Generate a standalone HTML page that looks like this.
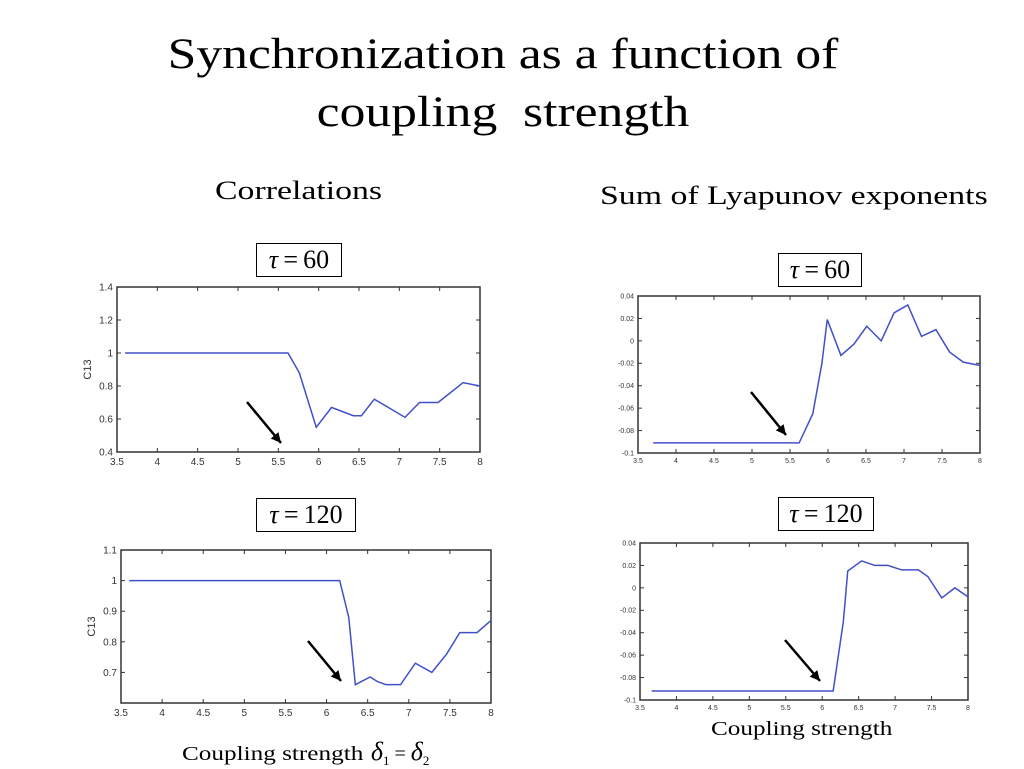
<!DOCTYPE html>
<html><head><meta charset="utf-8">
<style>
html,body{margin:0;padding:0;background:#fff;}
body{width:1024px;height:768px;position:relative;overflow:hidden;font-family:"Liberation Serif",serif;color:#000;}
.t{position:absolute;white-space:nowrap;}
.box{position:absolute;border:1px solid #000;font-size:26px;line-height:31px;text-align:center;}
svg{position:absolute;left:0;top:0;}
</style></head><body>
<div class="t" style="left:0;width:1006px;text-align:center;top:26px;font-size:43px;line-height:58px;transform:scaleX(1.2);transform-origin:503px 0;">Synchronization as a function of<br>coupling&nbsp; strength</div>
<div class="t" style="left:215px;top:176px;font-size:26px;transform:scaleX(1.3);transform-origin:0 0;">Correlations</div>
<div class="t" style="left:600px;top:181px;font-size:26px;transform:scaleX(1.3);transform-origin:0 0;">Sum of Lyapunov exponents</div>
<div class="box" style="left:256px;top:243px;width:84px;height:32px;"><i>τ</i>&thinsp;=&thinsp;60</div>
<div class="box" style="left:256px;top:498px;width:98px;height:32px;"><i>τ</i>&thinsp;=&thinsp;120</div>
<div class="box" style="left:778px;top:253px;width:82px;height:32px;"><i>τ</i>&thinsp;=&thinsp;60</div>
<div class="box" style="left:778px;top:497px;width:94px;height:32px;"><i>τ</i>&thinsp;=&thinsp;120</div>
<div class="t" style="left:182px;top:737px;font-size:20px;"><span style="display:inline-block;transform:scaleX(1.26);transform-origin:0 0;margin-right:40px;">Coupling strength</span> <i style="font-size:26px">δ</i><sub style="font-size:13px">1</sub> = <i style="font-size:26px">δ</i><sub style="font-size:13px">2</sub></div>
<div class="t" style="left:711px;top:718px;font-size:20px;transform:scaleX(1.26);transform-origin:0 0;">Coupling strength</div>
<svg id="chart" width="1024" height="768"></svg>
<script>
const xTicks=[3.5,4,4.5,5,5.5,6,6.5,7,7.5,8];
const xTickLabels=["3.5","4","4.5","5","5.5","6","6.5","7","7.5","8"];
// chart 1: correlations tau=60
const c1x=[3.6,5.62,5.76,5.97,6.16,6.43,6.53,6.69,7.07,7.25,7.48,7.79,8.0];
const c1y=[1.0,1.0,0.88,0.55,0.67,0.62,0.62,0.72,0.61,0.70,0.70,0.82,0.80];
const c1yTicks=[0.4,0.6,0.8,1,1.2,1.4];
const c1yLabels=["0.4","0.6","0.8","1","1.2","1.4"];
// chart 2: correlations tau=120
const c2x=[3.6,6.16,6.27,6.35,6.53,6.62,6.72,6.9,7.08,7.28,7.46,7.62,7.83,8.0];
const c2y=[1.0,1.0,0.88,0.66,0.685,0.67,0.66,0.66,0.73,0.70,0.76,0.83,0.83,0.87];
const c2yTicks=[0.7,0.8,0.9,1,1.1];
const c2yLabels=["0.7","0.8","0.9","1","1.1"];
// chart 3: lyapunov tau=60
const c3x=[3.7,5.62,5.8,5.92,5.99,6.17,6.34,6.51,6.7,6.87,7.05,7.23,7.42,7.6,7.78,8.0];
const c3y=[-0.091,-0.091,-0.065,-0.02,0.019,-0.013,-0.003,0.013,0.0,0.025,0.032,0.004,0.01,-0.01,-0.019,-0.022];
const c3yTicks=[-0.1,-0.08,-0.06,-0.04,-0.02,0,0.02,0.04];
const c3yLabels=["-0.1","-0.08","-0.06","-0.04","-0.02","0","0.02","0.04"];
// chart 4: lyapunov tau=120
const c4x=[3.66,6.15,6.29,6.35,6.54,6.72,6.9,7.09,7.32,7.45,7.64,7.82,8.0];
const c4y=[-0.092,-0.092,-0.03,0.015,0.024,0.02,0.02,0.016,0.016,0.01,-0.009,0.0,-0.008];
const c4yTicks=[-0.1,-0.08,-0.06,-0.04,-0.02,0,0.02,0.04];
const c4yLabels=["-0.1","-0.08","-0.06","-0.04","-0.02","0","0.02","0.04"];

const svg=document.getElementById('chart');
const NS='http://www.w3.org/2000/svg';
function mk(tag,attrs){const e=document.createElementNS(NS,tag);for(const k in attrs)e.setAttribute(k,attrs[k]);svg.appendChild(e);return e;}

function drawChart(id,box,ymin,ymax,xs,ys,yt,yl,ytitle,fs,arrow){
  const sx=v=>box.l+(v-3.5)/(8-3.5)*(box.r-box.l);
  const sy=v=>box.b-(v-ymin)/(ymax-ymin)*(box.b-box.t);
  const frame=mk('rect',{x:box.l,y:box.t,width:box.r-box.l,height:box.b-box.t,fill:'none',stroke:'#333','stroke-width':1.5});
  
  
  xTicks.forEach((v,i)=>{
    const x=sx(v);
    mk('line',{x1:x,y1:box.b,x2:x,y2:box.b-4,stroke:'#333'});
    mk('line',{x1:x,y1:box.t,x2:x,y2:box.t+4,stroke:'#333'});
    const t=mk('text',{x:x,y:box.b+fs+3,'font-size':fs,'text-anchor':'middle','font-family':'Liberation Sans, sans-serif',fill:'#333'});
    t.textContent=xTickLabels[i];
    
    
  });
  yt.forEach((v,i)=>{
    const y=sy(v);
    mk('line',{x1:box.l,y1:y,x2:box.l+4,y2:y,stroke:'#333'});
    mk('line',{x1:box.r,y1:y,x2:box.r-4,y2:y,stroke:'#333'});
    const t=mk('text',{x:box.l-4,y:y+fs*0.35,'font-size':fs,'text-anchor':'end','font-family':'Liberation Sans, sans-serif',fill:'#333'});
    t.textContent=yl[i];
    
    
  });
  if(ytitle){
    const cy=(box.t+box.b)/2;
    const t=mk('text',{x:box.l-26,y:cy,'font-size':11,'text-anchor':'middle','font-family':'Liberation Sans, sans-serif',fill:'#333',transform:'rotate(-90 '+(box.l-26)+' '+cy+')'});
    t.textContent=ytitle;
    
    
  }
  const pts=xs.map((v,i)=>sx(v)+','+sy(ys[i])).join(' ');
  const pl=mk('polyline',{points:pts,fill:'none',stroke:'#4050c8','stroke-width':1.5});
  
  
  const a=mk('line',{x1:arrow[0],y1:arrow[1],x2:arrow[2],y2:arrow[3],stroke:'#000','stroke-width':2.5});
  
  
  const ang=Math.atan2(arrow[3]-arrow[1],arrow[2]-arrow[0]);
  const L=10,W=5;
  const bx=arrow[2]-L*Math.cos(ang),by=arrow[3]-L*Math.sin(ang);
  const h=mk('polygon',{points:arrow[2]+','+arrow[3]+' '+(bx-W*Math.sin(ang))+','+(by+W*Math.cos(ang))+' '+(bx+W*Math.sin(ang))+','+(by-W*Math.cos(ang)),fill:'#000'});
  
  
}
drawChart('corr-tau60',{l:117,r:480,t:287,b:452},0.4,1.4,c1x,c1y,c1yTicks,c1yLabels,'C13',10,[247,402,281,443]);
drawChart('corr-tau120',{l:121,r:491,t:550,b:703},0.6,1.1,c2x,c2y,c2yTicks,c2yLabels,'C13',10,[308,641,341,681]);
drawChart('lyap-tau60',{l:638,r:980,t:296,b:453},-0.1,0.04,c3x,c3y,c3yTicks,c3yLabels,'',7,[751,392,786,435]);
drawChart('lyap-tau120',{l:640,r:968,t:543,b:700},-0.1,0.04,c4x,c4y,c4yTicks,c4yLabels,'',7,[785,640,820,681]);
</script>
</body></html>
